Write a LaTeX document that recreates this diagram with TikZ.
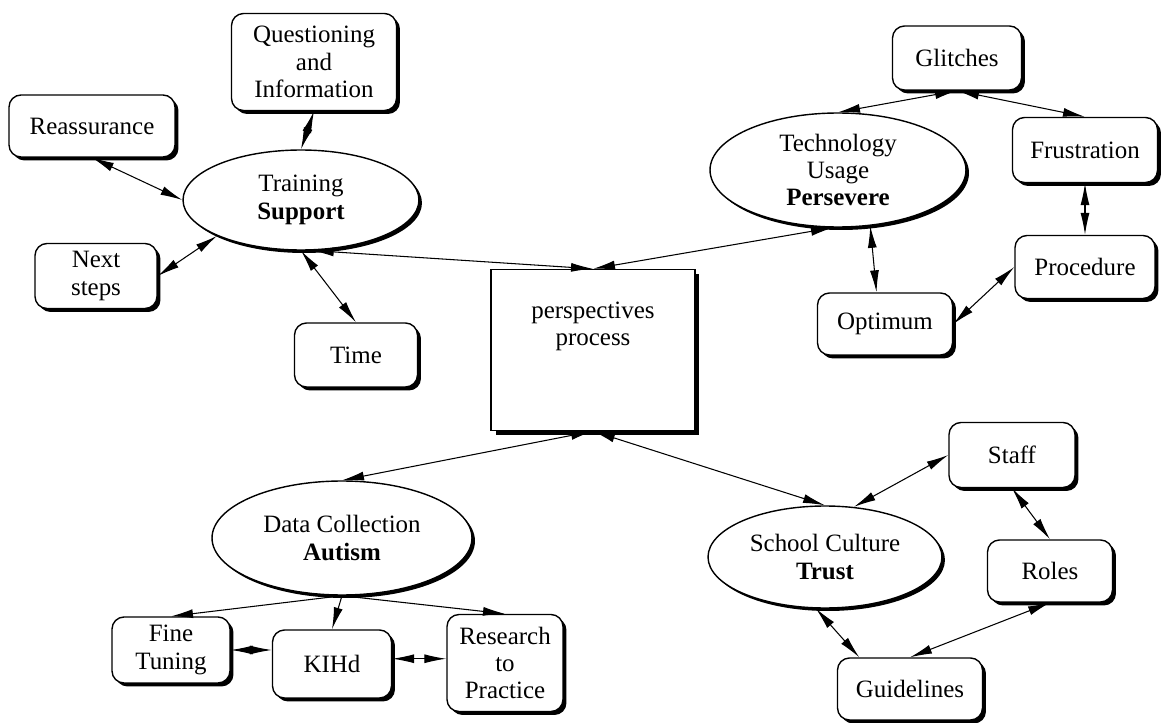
\documentclass[tikz,border=0pt]{standalone}
\usepackage{fontspec}
\setmainfont{Liberation Serif}
\usetikzlibrary{arrows.meta,shapes.geometric,shadows}

\begin{document}
\begin{tikzpicture}[x=0.02cm,y=-0.02cm,
        font=\fontsize{14.2}{15.6}\selectfont,
        box/.style={draw,line width=0.8pt,rounded corners=0.24cm,fill=white,align=center,inner sep=0pt,
            drop shadow={shadow xshift=0.07cm,shadow yshift=-0.07cm,fill=black,opacity=1}},
        oval/.style={ellipse,draw,line width=0.8pt,fill=white,align=center,inner sep=0pt,
            drop shadow={shadow xshift=0.06cm,shadow yshift=-0.06cm,fill=black,opacity=1}},
        hub/.style={draw,line width=0.8pt,fill=white,align=center,inner sep=0pt,
            minimum width=4.08cm,minimum height=3.22cm,text depth=1.05cm,
            drop shadow={shadow xshift=0.09cm,shadow yshift=-0.09cm,fill=black,opacity=1}},
        link/.style={{Latex[length=4.4mm,width=1.8mm]}-{Latex[length=4.4mm,width=1.8mm]},line width=0.6pt},
        feed/.style={-{Latex[length=4.4mm,width=1.8mm]},line width=0.6pt}]
            \useasboundingbox (0,0) rectangle (1161,723);

            \node[hub] (proc) at (593,350) {perspectives\\process};

            \node[oval,minimum width=4.72cm,minimum height=2.0cm] (training) at (301,200) {Training\\\textbf{Support}};
            \node[box,minimum width=3.3cm,minimum height=1.94cm] (question) at (314,62) {Questioning\\and\\Information};
            \node[box,minimum width=3.32cm,minimum height=1.24cm] (reassure) at (92,126) {Reassurance};
            \node[box,minimum width=2.44cm,minimum height=1.3cm] (nextsteps) at (96,276) {Next\\steps};
            \node[box,minimum width=2.46cm,minimum height=1.28cm] (time) at (356,355) {Time};

            \node[oval,minimum width=5.12cm,minimum height=2.28cm] (tech) at (838,170) {Technology\\Usage\\\textbf{Persevere}};
            \node[box,minimum width=2.58cm,minimum height=1.28cm] (glitch) at (957,58) {Glitches};
            \node[box,minimum width=2.9cm,minimum height=1.3cm] (frust) at (1085,150) {Frustration};
            \node[box,minimum width=2.8cm,minimum height=1.26cm] (procedure) at (1085,267) {Procedure};
            \node[box,minimum width=2.7cm,minimum height=1.24cm] (optimum) at (885,324) {Optimum};

            \node[oval,minimum width=5.2cm,minimum height=2.28cm] (data) at (342,538) {Data Collection\\\textbf{Autism}};
            \node[box,minimum width=2.36cm,minimum height=1.32cm] (fine) at (171,650) {Fine\\Tuning};
            \node[box,minimum width=2.38cm,minimum height=1.36cm] (kihd) at (332,664) {KIHd};
            \node[box,minimum width=2.32cm,minimum height=1.94cm] (research) at (505,663) {Research\\to\\Practice};

            \node[oval,minimum width=4.68cm,minimum height=2.04cm] (school) at (825,557) {School Culture\\\textbf{Trust}};
            \node[box,minimum width=2.52cm,minimum height=1.3cm] (staff) at (1012,455) {Staff};
            \node[box,minimum width=2.5cm,minimum height=1.24cm] (roles) at (1050,571) {Roles};
            \node[box,minimum width=2.9cm,minimum height=1.24cm] (guide) at (910,689) {Guidelines};

            \draw[link] (proc.north) -- (training.282);
            \draw[link] (proc.north) -- (tech.265);
            \draw[link] (proc.south) -- (data.north);
            \draw[link] (proc.south) -- (school.north);

            \draw[link] (question.south) -- (training.north);
            \draw[link] (reassure.south) -- (training.west);
            \draw[link] (nextsteps.east) -- (training.south west);
            \draw[link] (time.north) -- (training.south);

            \draw[link] (glitch.south) -- (tech.north);
            \draw[link] (glitch.south) -- (frust.north);
            \draw[link] (frust.south) -- (procedure.north);
            \draw[link] (tech.300) -- (optimum.105);
            \draw[link] (procedure.west) -- (optimum.east);

            \draw[feed] (data.south) -- (fine.north);
            \draw[feed] (data.south) -- (kihd.north);
            \draw[feed] (data.south) -- (research.north);
            \draw[link] (fine.east) -- (fine.east -| kihd.west);
            \draw[link] (kihd.5) -- (kihd.5 -| research.west);

            \draw[link] (staff.west) -- (school.60);
            \draw[link] (staff.south) -- (roles.north);
            \draw[link] (roles.south) -- (guide.north);
            \draw[link] (school.260) -- (guide.148);
        \end{tikzpicture}
\end{document}
